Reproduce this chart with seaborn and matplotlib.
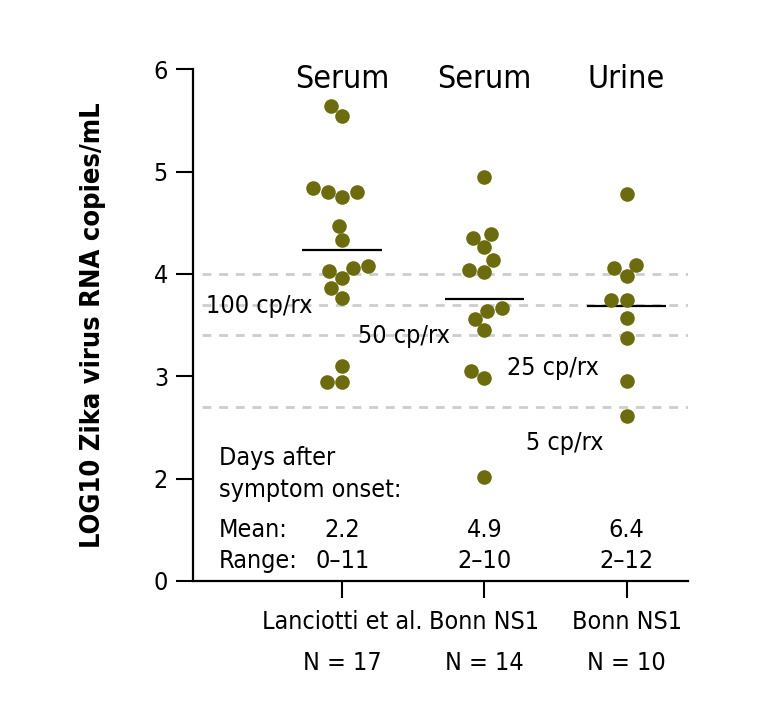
import matplotlib
matplotlib.use("Agg")
import matplotlib.pyplot as plt
from matplotlib import font_manager as fm
import seaborn as sns
import pandas as pd

# groups on the x axis (two lines each: study name + sample size)
groups = ["Lanciotti et al.\nN = 17", "Bonn NS1\nN = 14", "Bonn NS1\nN = 10"]
specimens = ["Serum", "Serum", "Urine"]

# LOG10 virus RNA copies/mL
lanciotti = [5.64, 5.54, 4.84, 4.80, 4.80, 4.75, 4.47, 4.33, 4.08, 4.06,
             4.03, 3.96, 3.86, 3.76, 3.10, 2.94, 2.94]
bonn_serum = [4.95, 4.39, 4.35, 4.26, 4.14, 4.04, 4.02, 3.67, 3.64, 3.56,
              3.45, 3.05, 2.98, 2.02]
bonn_urine = [4.78, 4.09, 4.06, 3.98, 3.74, 3.74, 3.57, 3.37, 2.95, 2.61]

# days after symptom onset
days_mean = ["2.2", "4.9", "6.4"]
days_range = ["0\u201311", "2\u201310", "2\u201312"]

# detection cut-offs
cutoffs = [4.0, 3.7, 3.4, 2.7]
cutoff_labels = ["100 cp/rx", "50 cp/rx", "25 cp/rx", "5 cp/rx"]

# axis is broken: bottom tick is labelled 0
yticks = [1, 2, 3, 4, 5, 6]
ytick_labels = ["0", "2", "3", "4", "5", "6"]

df = pd.DataFrame({
    "group": [groups[0]] * len(lanciotti) + [groups[1]] * len(bonn_serum)
             + [groups[2]] * len(bonn_urine),
    "log10": lanciotti + bonn_serum + bonn_urine,
})

sns.set_style("ticks")

# look for a narrow / condensed face, the original uses one
narrow = None
for f in fm.fontManager.ttflist:
    st = str(f.stretch)
    if st in ("condensed", "semi-condensed", "extra-condensed") or \
            "Narrow" in f.name or "Condensed" in f.name:
        narrow = f
        break

if narrow is not None:
    plt.rcParams["font.family"] = [narrow.name, "DejaVu Sans"]
    plt.rcParams["font.stretch"] = narrow.stretch
    fs = 18
    fs_title = 23
else:
    plt.rcParams["font.family"] = ["Liberation Sans", "DejaVu Sans"]
    fs = 16
    fs_title = 21
for k in ["text.color", "axes.labelcolor", "xtick.color", "ytick.color"]:
    plt.rcParams[k] = "black"

dot = "#6c6b0e"

fig, ax = plt.subplots(figsize=(7.78, 7.28), dpi=100)
fig.subplots_adjust(left=0.248, right=0.884, bottom=0.202, top=0.905)

for c in cutoffs:
    ax.hlines(c, -0.985, 2.43, color="#cdcdcd", lw=2, ls=(0, (3.2, 2.8)), zorder=0)

sns.swarmplot(data=df, x="group", y="log10", order=groups, color=dot,
              size=10.5, linewidth=0, ax=ax, zorder=3)

means = df.groupby("group", sort=False)["log10"].mean()
for i, g in enumerate(groups):
    ax.hlines(means[g], i - 0.28, i + 0.28, color="black", lw=1.6, zorder=2)
    ax.text(i, 5.82, specimens[i], ha="center", va="baseline", fontsize=fs_title)
    ax.text(i, 1.43, days_mean[i], ha="center", va="baseline", fontsize=fs)
    ax.text(i, 1.13, days_range[i], ha="center", va="baseline", fontsize=fs)

# cut-off labels
label_pos = [(-0.96, 3.62), (0.11, 3.32), (1.16, 3.01), (1.29, 2.28)]
for (x, y), t in zip(label_pos, cutoff_labels):
    ax.text(x, y, t, ha="left", va="baseline", fontsize=fs)

ax.text(-0.87, 2.13, "Days after", ha="left", va="baseline", fontsize=fs)
ax.text(-0.87, 1.82, "symptom onset:", ha="left", va="baseline", fontsize=fs)
ax.text(-0.87, 1.43, "Mean:", ha="left", va="baseline", fontsize=fs)
ax.text(-0.87, 1.13, "Range:", ha="left", va="baseline", fontsize=fs)

ax.set_xlim(-1.05, 2.43)
ax.set_ylim(1, 6)
ax.set_yticks(yticks)
ax.set_yticklabels(ytick_labels)
ax.set_xlabel("")
ax.set_ylabel("LOG10 Zika virus RNA copies/mL", fontsize=19.5, fontweight="bold")
ax.yaxis.set_label_coords(-0.175, 0.5)
ax.tick_params(axis="both", length=12, width=1.5, labelsize=fs)
ax.tick_params(axis="y", pad=6)
ax.tick_params(axis="x", pad=9)
for lab in ax.get_xticklabels():
    lab.set_linespacing(1.9)
sns.despine(ax=ax)
for s in ["left", "bottom"]:
    ax.spines[s].set_linewidth(1.6)
    ax.spines[s].set_color("black")

plt.savefig("out.png", dpi=100)
